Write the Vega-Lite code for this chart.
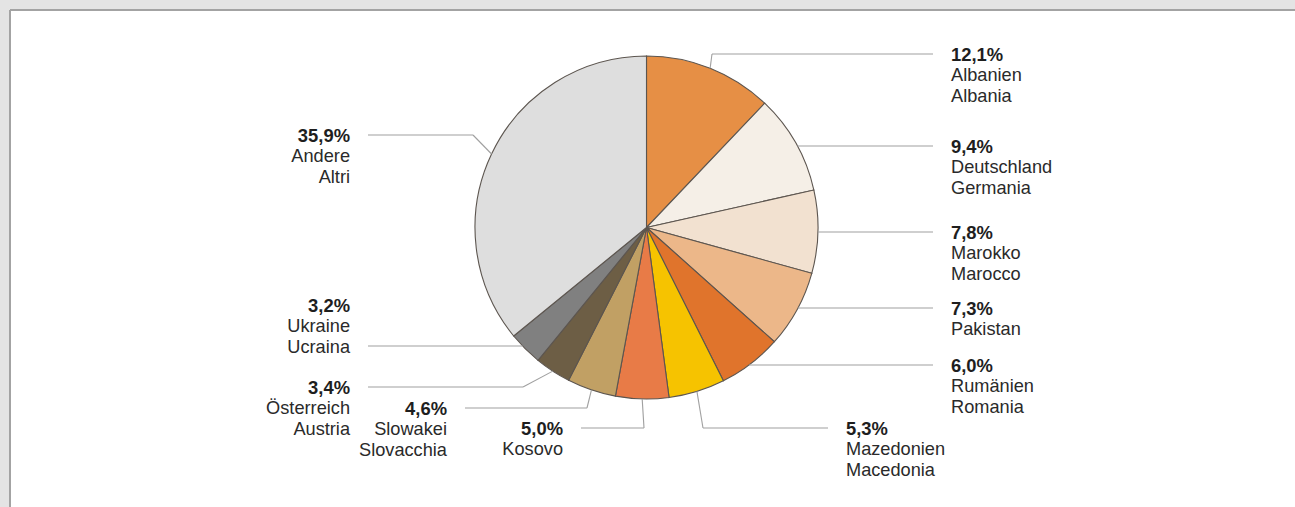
{
  "$schema": "https://vega.github.io/schema/vega-lite/v6.json",
  "width": 1285,
  "height": 497,
  "autosize": {"type": "none"},
  "padding": {"left": 10, "top": 10, "right": 0, "bottom": 0},
  "background": "#e4e4e4",
  "config": {
    "view": {"fill": "#ffffff", "stroke": null},
    "font": "Liberation Sans"
  },
  "data": {
    "values": [
      {"de": "Albanien", "it": "Albania", "value": 12.1},
      {"de": "Deutschland", "it": "Germania", "value": 9.4},
      {"de": "Marokko", "it": "Marocco", "value": 7.8},
      {"de": "Pakistan", "it": "Pakistan", "value": 7.3},
      {"de": "Rumänien", "it": "Romania", "value": 6.0},
      {"de": "Mazedonien", "it": "Macedonia", "value": 5.3},
      {"de": "Kosovo", "it": "Kosovo", "value": 5.0},
      {"de": "Slowakei", "it": "Slovacchia", "value": 4.6},
      {"de": "Österreich", "it": "Austria", "value": 3.4},
      {"de": "Ukraine", "it": "Ucraina", "value": 3.2},
      {"de": "Andere", "it": "Altri", "value": 35.9}
    ]
  },
  "transform": [
    {"window": [{"op": "row_number", "as": "idx"}, {"op": "sum", "field": "value", "as": "cum"}], "frame": [null, 0]},
    {"calculate": "(datum.cum - datum.value / 2) / 100 * 2 * PI", "as": "mid"},
    {"calculate": "171.5 * sin(datum.mid)", "as": "px0"},
    {"calculate": "-171.5 * cos(datum.mid)", "as": "py0"},
    {"calculate": "[-173.5, -81.5, 4.5, 80.5, 137.5, 200.5, 200.5, 180.5, 159.5, 118.5, -92.5][datum.idx - 1]", "as": "ly"},
    {"calculate": "[65.5, null, null, null, null, 56.5, -2.5, -59.5, -123.5, null, -173.5][datum.idx - 1]", "as": "bx"},
    {"calculate": "[286.5, 286.5, 286.5, 286.5, 286.5, 181.5, -65.5, -181.5, -278.5, -278.5, -278.5][datum.idx - 1]", "as": "lx"},
    {"calculate": "[0, 0, 0, 0, 0, 0, 0, 0, 0, -41, 0][datum.idx - 1]", "as": "voff"},
    {"calculate": "datum.ly + datum.voff", "as": "ty"},
    {"calculate": "datum.bx == null ? (datum.lx > 0 ? 1 : -1) : (datum.lx > datum.bx ? 1 : -1)", "as": "side"},
    {"calculate": "datum.bx == null ? datum.side * sqrt(171.5 * 171.5 - datum.ly * datum.ly) : datum.bx", "as": "ex"},
    {"calculate": "datum.bx == null ? datum.ex : datum.px0", "as": "sx"},
    {"calculate": "datum.bx == null ? datum.ly : datum.py0", "as": "sy"},
    {"calculate": "datum.lx + datum.side * 18", "as": "tx"},
    {"calculate": "replace(format(datum.value, '.1f'), '.', ',') + '%'", "as": "pct"},
    {"calculate": "datum.de == datum.it ? datum.de : datum.de + '\\n' + datum.it", "as": "name"}
  ],
  "layer": [
    {
      "mark": {"type": "arc", "outerRadius": 171.5, "stroke": "#5c554f", "strokeWidth": 1.1},
      "encoding": {
        "theta": {"field": "value", "type": "quantitative", "stack": true},
        "order": {"field": "idx", "type": "quantitative"},
        "x": {"datum": 0, "type": "quantitative", "scale": {"domain": [-636.5, 648.5], "nice": false, "zero": false}, "axis": null},
        "y": {"datum": 0, "type": "quantitative", "scale": {"domain": [-217.5, 279.5], "nice": false, "zero": false, "reverse": true}, "axis": null},
        "color": {
          "field": "de",
          "type": "nominal",
          "legend": null,
          "scale": {
            "domain": ["Albanien", "Deutschland", "Marokko", "Pakistan", "Rumänien", "Mazedonien", "Kosovo", "Slowakei", "Österreich", "Ukraine", "Andere"],
            "range": ["#e68f45", "#f5efe7", "#f2e1d0", "#ecb789", "#e0742c", "#f6c300", "#e87b47", "#c1a064", "#6d5e45", "#808080", "#dedede"]
          }
        }
      }
    },
    {
      "mark": {"type": "rule", "stroke": "#a3a3a3", "strokeWidth": 1.5},
      "encoding": {"x": {"datum": -636.5, "type": "quantitative"}}
    },
    {
      "mark": {"type": "rule", "stroke": "#a3a3a3", "strokeWidth": 1.5},
      "encoding": {"y": {"datum": -217.5, "type": "quantitative"}}
    },
    {
      "mark": {"type": "rule", "stroke": "#a0a0a0", "strokeWidth": 1.1},
      "encoding": {
        "x": {"field": "sx", "type": "quantitative"},
        "y": {"field": "sy", "type": "quantitative"},
        "x2": {"field": "ex"},
        "y2": {"field": "ly"}
      }
    },
    {
      "mark": {"type": "rule", "stroke": "#a0a0a0", "strokeWidth": 1.1},
      "encoding": {
        "x": {"field": "ex", "type": "quantitative"},
        "y": {"field": "ly", "type": "quantitative"},
        "x2": {"field": "lx"}
      }
    },
    {
      "transform": [{"filter": "datum.side > 0"}],
      "mark": {"type": "text", "align": "left", "baseline": "alphabetic", "dy": 6.5, "fontSize": 18.4, "fontWeight": "bold", "color": "#1e1e1e"},
      "encoding": {
        "x": {"field": "tx", "type": "quantitative"},
        "y": {"field": "ty", "type": "quantitative"},
        "text": {"field": "pct"}
      }
    },
    {
      "transform": [{"filter": "datum.side > 0"}],
      "mark": {"type": "text", "align": "left", "baseline": "alphabetic", "dy": 27, "fontSize": 18.2, "lineBreak": "\n", "lineHeight": 21, "color": "#2a2a2a"},
      "encoding": {
        "x": {"field": "tx", "type": "quantitative"},
        "y": {"field": "ty", "type": "quantitative"},
        "text": {"field": "name"}
      }
    },
    {
      "transform": [{"filter": "datum.side < 0"}],
      "mark": {"type": "text", "align": "right", "baseline": "alphabetic", "dy": 6.5, "fontSize": 18.4, "fontWeight": "bold", "color": "#1e1e1e"},
      "encoding": {
        "x": {"field": "tx", "type": "quantitative"},
        "y": {"field": "ty", "type": "quantitative"},
        "text": {"field": "pct"}
      }
    },
    {
      "transform": [{"filter": "datum.side < 0"}],
      "mark": {"type": "text", "align": "right", "baseline": "alphabetic", "dy": 27, "fontSize": 18.2, "lineBreak": "\n", "lineHeight": 21, "color": "#2a2a2a"},
      "encoding": {
        "x": {"field": "tx", "type": "quantitative"},
        "y": {"field": "ty", "type": "quantitative"},
        "text": {"field": "name"}
      }
    }
  ]
}
